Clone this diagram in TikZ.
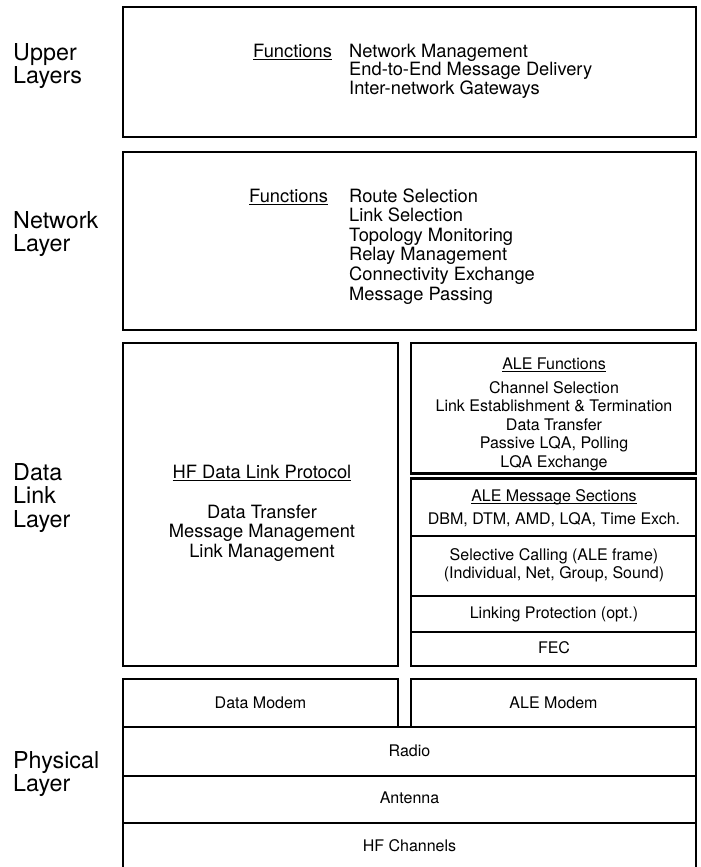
\documentclass[tikz,border=0pt]{standalone}
\usepackage{fontspec}
\setmainfont{TeX Gyre Heros}
\newcommand\ulin[1]{\setbox0\hbox{#1}\rlap{\rule[-3pt]{\wd0}{1.1pt}}\box0}
\begin{document}
\begin{tikzpicture}[x=1pt,y=-1pt,
  box/.style={draw=black, line width=2.6pt, anchor=north west, inner sep=0pt, outer sep=0pt},
  lbl/.style={anchor=base west, inner sep=0pt, font=\fontsize{23.3}{24}\selectfont},
  bigl/.style={anchor=base west, inner sep=0pt, font=\fontsize{18.3}{19}\selectfont},
  bigc/.style={anchor=base, inner sep=0pt, font=\fontsize{18.3}{19}\selectfont},
  smallc/.style={anchor=base, inner sep=0pt, font=\fontsize{16}{17}\selectfont}]
\useasboundingbox (0,0) rectangle (701,867);
\clip (0,0) rectangle (701,867);
% boxes
\node[box, minimum width=573pt, minimum height=130pt] (upbox) at (123,7) {};
\node[box, minimum width=573pt, minimum height=178pt] (netbox) at (123,152) {};
\node[box, minimum width=275pt, minimum height=323pt] (hfbox) at (123,343) {};
\node[box, minimum width=285pt, minimum height=130.5pt] (ale1) at (411,343) {};
\node[box, minimum width=285pt, minimum height=57.5pt] (ale2) at (411,478.5) {};
\node[box, minimum width=285pt, minimum height=60pt] (ale3) at (411,536) {};
\node[box, minimum width=285pt, minimum height=36pt] (ale4) at (411,596) {};
\node[box, minimum width=285pt, minimum height=34pt] (fec) at (411,632) {};
\node[box, minimum width=275pt, minimum height=48pt] (dmod) at (123,679) {};
\node[box, minimum width=285pt, minimum height=48pt] (amod) at (411,679) {};
\node[box, minimum width=573pt, minimum height=49pt] (radio) at (123,727) {};
\node[box, minimum width=573pt, minimum height=47pt] (ant) at (123,776) {};
\node[box, minimum width=573pt, minimum height=60pt] (hfch) at (123,823) {};
% left labels
\node[lbl] (l1a) at (13,60) {Upper};
\node[lbl] (l1b) at (13,83.5) {Layers};
\node[lbl] (l2a) at (13,228) {Network};
\node[lbl] (l2b) at (13,251.5) {Layer};
\node[lbl] (l3a) at (13,480) {Data};
\node[lbl] (l3b) at (13,503.5) {Link};
\node[lbl] (l3c) at (13,527) {Layer};
\node[lbl] (l4a) at (13,768) {Physical};
\node[lbl] (l4b) at (13,791.5) {Layer};
% upper layers
\node[bigl] (upf) at (253,57) {\ulin{Functions}};
\node[bigl] (up1) at (349,57) {Network Management};
\node[bigl] (up2) at (349,75.5) {End-to-End Message Delivery};
\node[bigl] (up3) at (349,94) {Inter-network Gateways};
% network layer
\node[bigl] (nf) at (249,202) {\ulin{Functions}};
\node[bigl] (n1) at (349,202) {Route Selection};
\node[bigl] (n2) at (349,221.6) {Link Selection};
\node[bigl] (n3) at (349,241.2) {Topology Monitoring};
\node[bigl] (n4) at (349,260.8) {Relay Management};
\node[bigl] (n5) at (349,280.4) {Connectivity Exchange};
\node[bigl] (n6) at (349,300) {Message Passing};
% HF data link
\node[bigc] (hf0) at (262,478) {\ulin{HF Data Link Protocol}};
\node[bigc] (hf1) at (262,518) {Data Transfer};
\node[bigc] (hf2) at (262,537.5) {Message Management};
\node[bigc] (hf3) at (262,557) {Link Management};
% ALE column
\node[smallc] (a0) at (554,369) {\ulin{ALE Functions}};
\node[smallc] (a1) at (554,393) {Channel Selection};
\node[smallc] (a2) at (554,411.5) {Link Establishment \& Termination};
\node[smallc] (a3) at (554,430) {Data Transfer};
\node[smallc] (a4) at (554,448.5) {Passive LQA, Polling};
\node[smallc] (a5) at (554,467) {LQA Exchange};
\node[smallc] (m0) at (554,501) {\ulin{ALE Message Sections}};
\node[smallc] (m1) at (554,524) {DBM, DTM, AMD, LQA, Time Exch.};
\node[smallc] (s1) at (554,560) {Selective Calling (ALE frame)};
\node[smallc] (s2) at (554,578) {(Individual, Net, Group, Sound)};
\node[smallc] (lp) at (554,618) {Linking Protection (opt.)};
\node[smallc] (fe) at (554,653) {FEC};
% physical
\node[smallc] (dm) at (260.5,708) {Data Modem};
\node[smallc] (am) at (553.5,708) {ALE Modem};
\node[smallc] (ra) at (409.5,756) {Radio};
\node[smallc] (an) at (409.5,803) {Antenna};
\node[smallc] (hc) at (409.5,851) {HF Channels};
\end{tikzpicture}
\end{document}
